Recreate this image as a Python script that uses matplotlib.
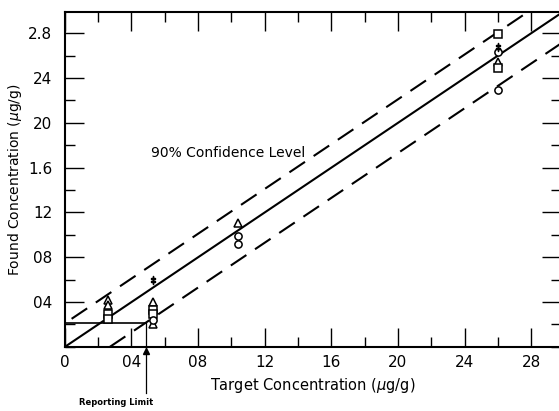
import numpy as np
import matplotlib
matplotlib.use("Agg")
import matplotlib.pyplot as plt
from matplotlib.ticker import MultipleLocator, FixedLocator, FixedFormatter

plt.rcParams['font.family'] = ['DejaVu Sans']

# measured points, grouped by marker
tri_x = [0.26, 0.26, 0.53, 0.53, 1.04, 2.60]
tri_y = [0.42, 0.37, 0.40, 0.20, 1.11, 2.54]
sq_x = [0.26, 0.26, 0.53, 0.53, 2.60, 2.60]
sq_y = [0.29, 0.25, 0.33, 0.29, 2.79, 2.49]
circ_x = [0.53, 1.04, 1.04, 2.60, 2.60]
circ_y = [0.24, 0.99, 0.92, 2.63, 2.29]
dag_x = [0.53, 2.60]
dag_y = [0.60, 2.68]

# regression line and 90% confidence band (intercepts)
fit_b = 0.0
upper_b = 0.21
lower_b = -0.27
reporting_limit = 0.49

xticks = [0, 0.4, 0.8, 1.2, 1.6, 2.0, 2.4, 2.8]
xlabels = ['0', '04', '08', '12', '16', '20', '24', '28']
yticks = [0.4, 0.8, 1.2, 1.6, 2.0, 2.4, 2.8]
ylabels = ['04', '08', '12', '1.6', '20', '24', '2.8']

fig = plt.figure(figsize=(5.59, 4.11), dpi=100)
ax = fig.add_axes([0.116, 0.156, 0.888, 0.815])
ax.set_xlim(0, 2.98)
ax.set_ylim(0, 2.99)

xx = np.array([-1, 4])
ax.plot(xx, xx + fit_b, color='k', lw=1.5)
ax.plot(xx, xx + upper_b, color='k', lw=1.5, dashes=(9, 5))
ax.plot(xx, xx + lower_b, color='k', lw=1.5, dashes=(9, 5))

# reporting limit
ax.plot([0, reporting_limit], [upper_b, upper_b], color='k', lw=1.2)
ax.plot([reporting_limit, reporting_limit], [-0.41, upper_b], color='k',
        lw=0.9, clip_on=False)
ax.plot([reporting_limit], [-0.035], marker='^', color='k', ms=4,
        clip_on=False)
ax.text(0.31, -0.50, 'Reporting Limit', fontsize=6, fontweight='bold',
        ha='center', va='center')

mk = dict(linestyle='none', color='k', mfc='white', mew=1.1, ms=5.2)
ax.plot(tri_x, tri_y, marker='^', **mk)
ax.plot(sq_x, sq_y, marker='s', **mk)
ax.plot(circ_x, circ_y, marker='o', **mk)
ax.plot(dag_x, dag_y, linestyle='none', marker=r'$\ddagger$', color='k', ms=6)

ax.text(0.98, 1.73, '90% Confidence Level', fontsize=10, ha='center',
        va='center')

ax.xaxis.set_major_locator(FixedLocator(xticks))
ax.xaxis.set_major_formatter(FixedFormatter(xlabels))
ax.yaxis.set_major_locator(FixedLocator(yticks))
ax.yaxis.set_major_formatter(FixedFormatter(ylabels))
ax.xaxis.set_minor_locator(MultipleLocator(0.2))
ax.yaxis.set_minor_locator(MultipleLocator(0.2))
ax.tick_params(which='both', direction='in', top=True, right=True,
               width=1.0, labelsize=11)
ax.tick_params(which='major', length=14, pad=6)
ax.tick_params(which='minor', length=7)
ax.tick_params(axis='y', pad=9)

for s in ax.spines.values():
    s.set_linewidth(1.5)

ax.set_xlabel('Target Concentration ($\\mu$g/g)', fontsize=10.5, labelpad=4)
ax.set_ylabel('Found Concentration ($\\mu$g/g)', fontsize=10, labelpad=3)

fig.savefig('out.png', dpi=100)
